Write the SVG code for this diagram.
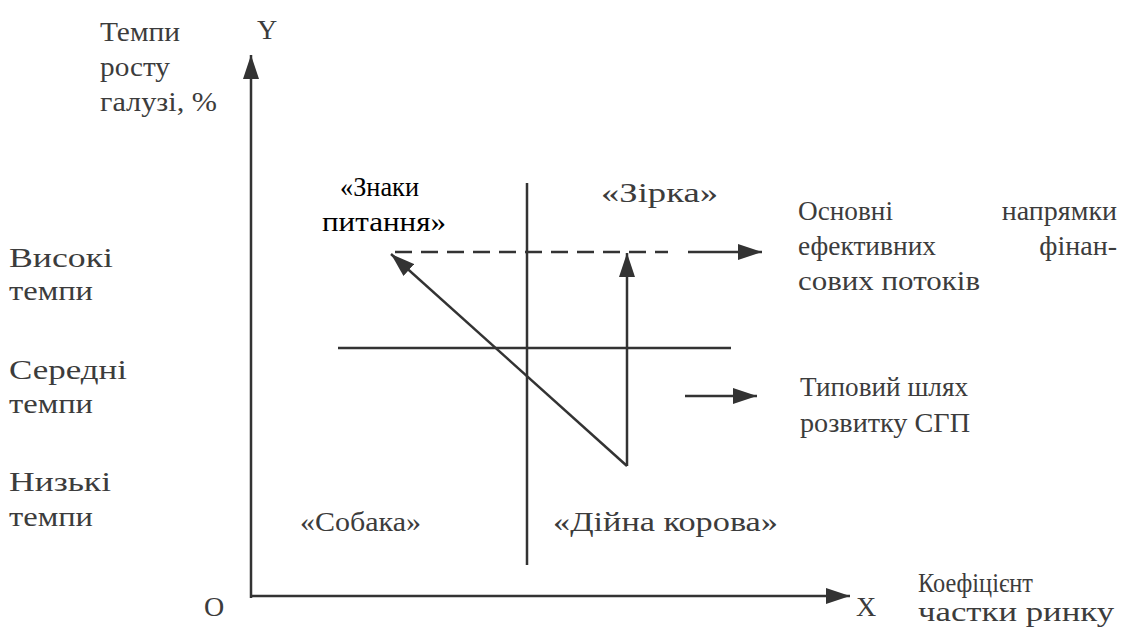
<svg xmlns="http://www.w3.org/2000/svg" width="1123" height="629" viewBox="0 0 1123 629">
<defs>
<marker id="ahb" viewBox="0 0 24 16" refX="24" refY="8" markerWidth="24" markerHeight="16" markerUnits="userSpaceOnUse" orient="auto">
<path d="M0,0 L24,8 L0,16 Z" fill="#333"/>
</marker>
</defs>
<style>
.t{font-size:28px;fill:#3c3c3c}
.b{font-size:28px;fill:#000}
.ln{stroke:#333;stroke-width:2.5;fill:none}
.ar{stroke:#333;stroke-width:2.5;fill:none;marker-end:url(#ahb)}
</style>
<rect width="1123" height="629" fill="#fff"/>
<g id="axes">
<line class="ar" x1="251" y1="598" x2="251" y2="55"/>
<line class="ar" x1="251" y1="596" x2="850" y2="596"/>
</g>
<g id="connectors">
<line class="ln" x1="527" y1="183" x2="527" y2="565"/>
<line class="ln" x1="338" y1="348" x2="731" y2="348"/>
<line class="ln" x1="395" y1="252" x2="668" y2="252" stroke-dasharray="17,9"/>
<line class="ar" x1="688" y1="252" x2="762" y2="252"/>
<line class="ar" x1="685" y1="396" x2="757" y2="396"/>
<line class="ar" x1="627" y1="466" x2="391" y2="254"/>
<line class="ar" x1="627" y1="466" x2="627" y2="253"/>
</g>
<g font-family="Liberation Serif, serif">
<g id="y-label">
<text class="t" x="100" y="41" textLength="80" lengthAdjust="spacingAndGlyphs">Темпи</text>
<text class="t" x="100" y="76" textLength="70" lengthAdjust="spacingAndGlyphs">росту</text>
<text class="t" x="100" y="111" textLength="117" lengthAdjust="spacingAndGlyphs">галузі, %</text>
<text class="t" x="257" y="39">Y</text>
</g>
<g id="rate-labels">
<text class="t" x="9" y="267" textLength="104" lengthAdjust="spacingAndGlyphs">Високі</text>
<text class="t" x="9" y="300" textLength="84" lengthAdjust="spacingAndGlyphs">темпи</text>
<text class="t" x="9" y="379" textLength="118" lengthAdjust="spacingAndGlyphs">Середні</text>
<text class="t" x="9" y="413" textLength="84" lengthAdjust="spacingAndGlyphs">темпи</text>
<text class="t" x="9" y="491" textLength="102" lengthAdjust="spacingAndGlyphs">Низькі</text>
<text class="t" x="9" y="526" textLength="84" lengthAdjust="spacingAndGlyphs">темпи</text>
</g>
<g id="q-question">
<text class="b" x="340" y="196" textLength="79" lengthAdjust="spacingAndGlyphs">«Знаки</text>
<text class="b" x="322" y="231" textLength="124" lengthAdjust="spacingAndGlyphs">питання»</text>
</g>
<g id="q-star">
<text class="t" x="601" y="202" textLength="117" lengthAdjust="spacingAndGlyphs">«Зірка»</text>
</g>
<g id="q-dog">
<text class="t" x="300" y="531" textLength="121" lengthAdjust="spacingAndGlyphs">«Собака»</text>
</g>
<g id="q-cow">
<text class="t" x="553" y="531" textLength="225" lengthAdjust="spacingAndGlyphs">«Дійна корова»</text>
</g>
<g id="legend-flows">
<text class="t" x="798" y="220" textLength="95" lengthAdjust="spacingAndGlyphs">Основні</text>
<text class="t" x="1117" y="220" text-anchor="end">напрямки</text>
<text class="t" x="798" y="255" textLength="138" lengthAdjust="spacingAndGlyphs">ефективних</text>
<text class="t" x="1117" y="255" text-anchor="end">фінан-</text>
<text class="t" x="798" y="290" textLength="182" lengthAdjust="spacingAndGlyphs">сових потоків</text>
</g>
<g id="legend-path">
<text class="t" x="800" y="396" textLength="168" lengthAdjust="spacingAndGlyphs">Типовий шлях</text>
<text class="t" x="800" y="432" textLength="170" lengthAdjust="spacingAndGlyphs">розвитку СГП</text>
</g>
<g id="origin">
<text class="t" x="204" y="616">O</text>
<text class="t" x="856" y="616">X</text>
<text class="t" x="918" y="592" textLength="115" lengthAdjust="spacingAndGlyphs">Коефіцієнт</text>
<text class="t" x="918" y="621" textLength="196" lengthAdjust="spacingAndGlyphs">частки ринку</text>
</g>
</g>
</svg>
